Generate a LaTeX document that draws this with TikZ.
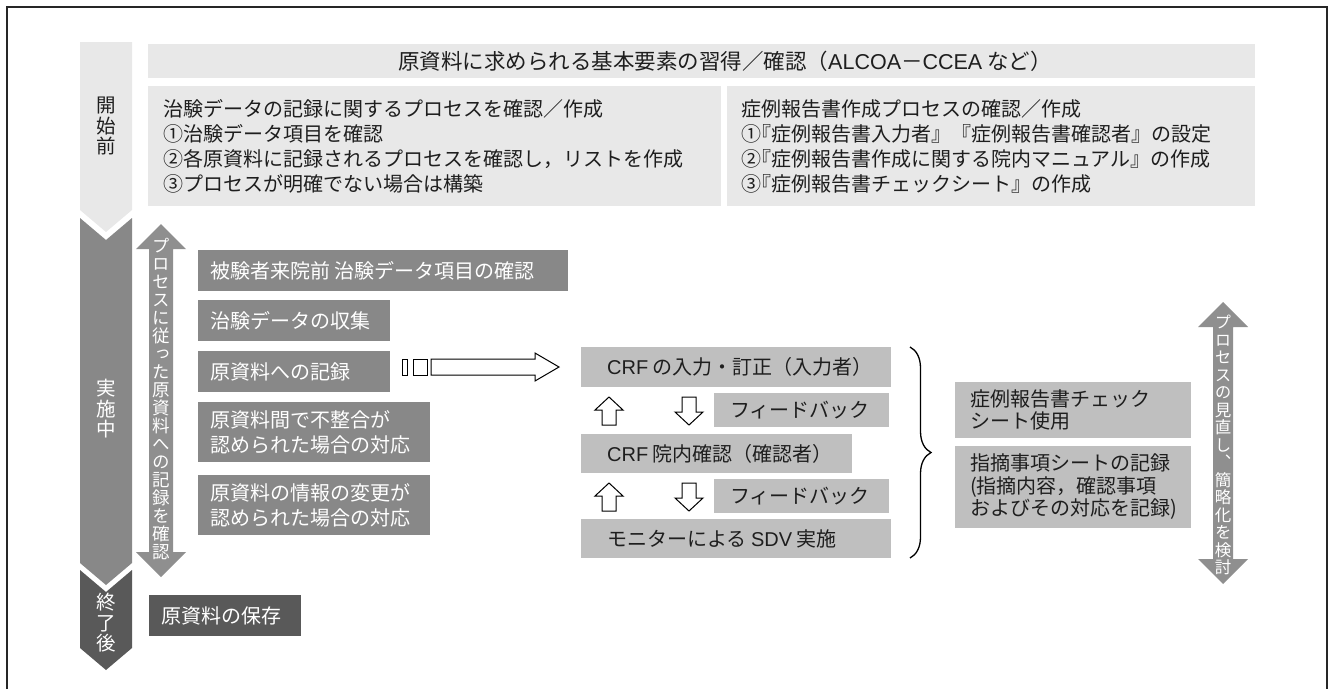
\documentclass[tikz,border=0pt]{standalone}
\usepackage{fontspec}
\setmainfont{Noto Sans CJK JP}
\newfontfamily\jpv[RawFeature=+vert]{Noto Sans CJK JP}
\newfontfamily\lat{Liberation Sans}
\usetikzlibrary{decorations.pathreplacing,calc}
\definecolor{glight}{HTML}{E8E8E8}
\definecolor{gmid}{HTML}{888888}
\definecolor{garr}{HTML}{8F8F8F}
\definecolor{gcrf}{HTML}{BFBFBF}
\definecolor{gdark}{HTML}{595959}
\definecolor{ink}{HTML}{1E1E1E}
\newcommand{\fsz}[2]{\fontsize{#1}{#2}\selectfont}
\newcommand{\hk}{\kern-.5em}
\begin{document}
\begin{tikzpicture}[x=1pt,y=-1pt,
  bx/.style={anchor=north west, inner sep=0pt, outer sep=0pt},
  txt/.style={anchor=west, inner sep=0pt, align=left, font=\fsz{20}{25}},
  vtxt/.style={inner sep=0pt, align=center, font=\jpv\fsz{17.5}{18}},
  ctxt/.style={inner sep=0pt, align=center, font=\fsz{19.5}{20.5}},
  blk/.style={draw=black, fill=white, line width=1pt},
  uparr/.pic={\draw[blk] (0,-14) -- (14,-1) -- (7,-1) -- (7,14) -- (-7,14) -- (-7,-1) -- (-14,-1) -- cycle;},
  dnarr/.pic={\draw[blk] (0,14) -- (14,1) -- (7,1) -- (7,-14) -- (-7,-14) -- (-7,1) -- (-14,1) -- cycle;},
]
\useasboundingbox (0,0) rectangle (1330,689);
\draw[line width=2pt, black!85] (7,689) -- (7,7) -- (1327,7) -- (1327,689);

% phase chevrons
\fill[glight] (80,42) -- (132,42) -- (132,210) -- (106,232) -- (80,210) -- cycle;
\node[ctxt, text=ink] (pre) at (106,126) {開\\始\\前};
\fill[gmid] (80,218) -- (106,240) -- (132,218) -- (132,563) -- (106,585) -- (80,563) -- cycle;
\node[ctxt, text=white] (dur) at (106,409) {実\\施\\中};
\fill[gdark] (80,570) -- (106,592) -- (132,570) -- (132,648) -- (106,670) -- (80,648) -- cycle;
\node[ctxt, text=white] (post) at (106,623) {終\\了\\後};

% top row
\node[bx, fill=glight, minimum width=1107pt, minimum height=34pt] (top) at (148,44) {};
\node[txt, text=ink, font=\fsz{21.5}{25}] (topt) at (398,61) {原資料に求められる基本要素の習得／確認（{\lat ALCOA}－{\lat CCEA} など）};

% second row
\node[bx, fill=glight, minimum width=573pt, minimum height=120pt] (pl) at (148,86) {};
\node[txt, text=ink] (plt) at ([xshift=15pt]pl.west) {治験データの記録に関するプロセスを確認／作成\\①治験データ項目を確認\\②各原資料に記録されるプロセスを確認し，リストを作成\\③プロセスが明確でない場合は構築};
\node[bx, fill=glight, minimum width=528pt, minimum height=120pt] (pr) at (727,86) {};
\node[txt, text=ink] (prt) at ([xshift=14pt]pr.west) {症例報告書作成プロセスの確認／作成\\①\hk『症例報告書入力者』『症例報告書確認者』の設定\\②\hk『症例報告書作成に関する院内マニュアル』の作成\\③\hk『症例報告書チェックシート』の作成};

% left vertical double arrow
\fill[garr] (161,224) -- (186,249) -- (173,249) -- (173,552) -- (186,552) -- (161,577) -- (136,552) -- (149,552) -- (149,249) -- (136,249) -- cycle;
\node[vtxt, text=white] (lat) at (161,399) {プ\\ロ\\セ\\ス\\に\\従\\っ\\た\\原\\資\\料\\へ\\の\\記\\録\\を\\確\\認};

% left gray boxes
\node[bx, fill=gmid, minimum width=370pt, minimum height=41pt] (b1) at (198,250) {};
\node[txt, text=white] (b1t) at ([xshift=12pt]b1.west) {被験者来院前 治験データ項目の確認};
\node[bx, fill=gmid, minimum width=192pt, minimum height=41pt] (b2) at (198,300) {};
\node[txt, text=white] (b2t) at ([xshift=12pt]b2.west) {治験データの収集};
\node[bx, fill=gmid, minimum width=192pt, minimum height=41pt] (b3) at (198,351) {};
\node[txt, text=white] (b3t) at ([xshift=12pt]b3.west) {原資料への記録};
\node[bx, fill=gmid, minimum width=232pt, minimum height=60pt] (b4) at (198,402) {};
\node[txt, text=white] (b4t) at ([xshift=12pt]b4.west) {原資料間で不整合が\\認められた場合の対応};
\node[bx, fill=gmid, minimum width=232pt, minimum height=60pt] (b5) at (198,475) {};
\node[txt, text=white] (b5t) at ([xshift=12pt]b5.west) {原資料の情報の変更が\\認められた場合の対応};
\node[bx, fill=gdark, minimum width=152pt, minimum height=41pt] (b6) at (149,595) {};
\node[txt, text=white] (b6t) at ([xshift=12pt]b6.west) {原資料の保存};

% striped wide arrow
\draw[blk] (402,359) rectangle (407,375);
\draw[blk] (413,359) rectangle (427,375);
\draw[blk] (431,359) -- (535,359) -- (535,353) -- (559,367) -- (535,381) -- (535,375) -- (431,375) -- cycle;

% CRF column
\node[bx, fill=gcrf, minimum width=310pt, minimum height=40pt] (c1) at (581,347) {};
\node[txt, text=ink] (c1t) at ([xshift=26pt]c1.west) {{\lat CRF} の入力・訂正（入力者）};
\node[bx, fill=gcrf, minimum width=175pt, minimum height=34pt] (f1) at (714,393) {};
\node[txt, text=ink] (f1t) at ([xshift=16pt]f1.west) {フィードバック};
\node[bx, fill=gcrf, minimum width=271pt, minimum height=39pt] (c2) at (581,434) {};
\node[txt, text=ink] (c2t) at ([xshift=26pt]c2.west) {{\lat CRF} 院内確認（確認者）};
\node[bx, fill=gcrf, minimum width=175pt, minimum height=34pt] (f2) at (714,479) {};
\node[txt, text=ink] (f2t) at ([xshift=16pt]f2.west) {フィードバック};
\node[bx, fill=gcrf, minimum width=310pt, minimum height=39pt] (c3) at (581,519) {};
\node[txt, text=ink] (c3t) at ([xshift=26pt]c3.west) {モニターによる {\lat SDV} 実施};

\pic (u1) at (609,411) {uparr};
\pic (d1) at (689,411) {dnarr};
\pic (u2) at (609,497) {uparr};
\pic (d2) at (689,497) {dnarr};

% brace
\draw[line width=1.3pt, decorate, decoration={brace, amplitude=21pt}] (910,347) -- (910,558);

% right boxes
\node[bx, fill=gcrf, minimum width=236pt, minimum height=56pt] (r1) at (955,382) {};
\node[txt, text=ink, font=\fsz{20}{22.5}] (r1t) at ([xshift=15pt]r1.west) {症例報告書チェック\\シート使用};
\node[bx, fill=gcrf, minimum width=236pt, minimum height=82pt] (r2) at (955,446) {};
\node[txt, text=ink, font=\fsz{20}{22.5}] (r2t) at ([xshift=15pt]r2.west) {指摘事項シートの記録\\(指摘内容，確認事項\\およびその対応を記録)};

% right vertical double arrow
\fill[garr] (1223,302) -- (1248,327) -- (1233,327) -- (1233,559) -- (1248,559) -- (1223,584) -- (1198,559) -- (1213,559) -- (1213,327) -- (1198,327) -- cycle;
\node[vtxt, font=\jpv\fsz{16.5}{17.5}, text=white] (rat) at (1223,445) {プ\\ロ\\セ\\ス\\の\\見\\直\\し\\、\\簡\\略\\化\\を\\検\\討};
\end{tikzpicture}
\end{document}
